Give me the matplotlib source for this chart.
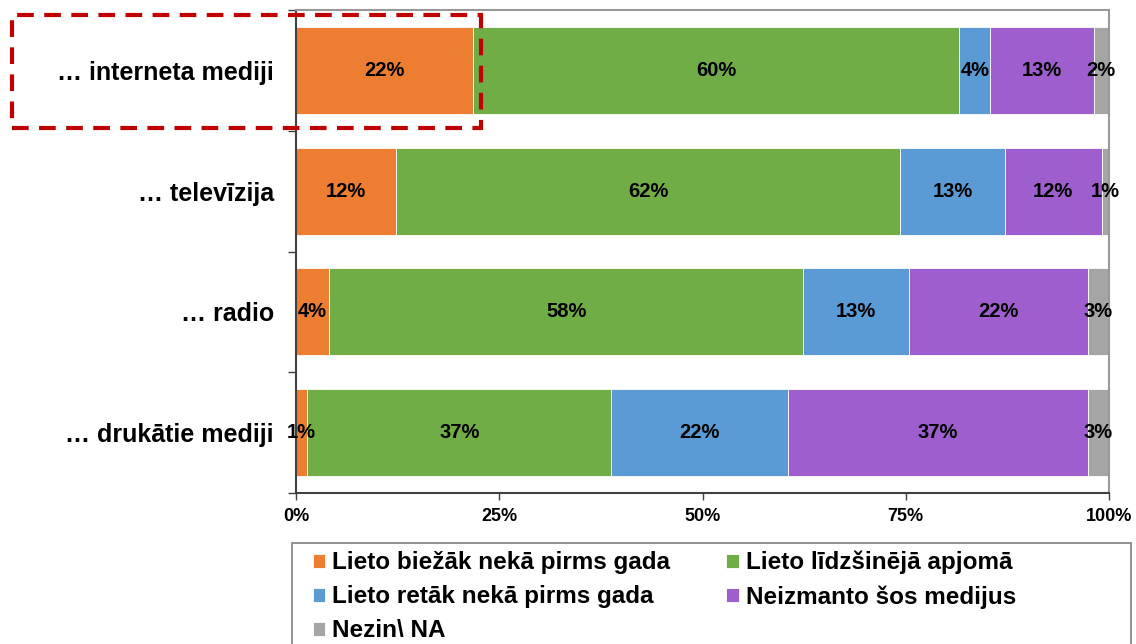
import matplotlib
matplotlib.use("Agg")
import matplotlib.pyplot as plt
import numpy as np
from matplotlib.patches import Rectangle
from matplotlib.ticker import FuncFormatter, FixedLocator

categories = ["… interneta mediji", "… televīzija", "… radio", "… drukātie mediji"]
series = ["Lieto biežāk nekā pirms gada", "Lieto līdzšinējā apjomā",
          "Lieto retāk nekā pirms gada", "Neizmanto šos medijus", "Nezin\\ NA"]
colors = ["#ED7D31", "#70AD47", "#5B9BD5", "#9E5ECE", "#A5A5A5"]

biezak = [21.8, 12.3, 4.1, 1.4]
lidzsinejais = [59.8, 62.0, 58.3, 37.4]
retak = [3.8, 12.9, 13.0, 21.7]
neizmanto = [12.7, 11.9, 22.0, 36.9]
nezin = [1.9, 0.9, 2.6, 2.6]
values = [biezak, lidzsinejais, retak, neizmanto, nezin]

plt.rcParams["font.family"] = ["Liberation Sans", "DejaVu Sans"]
plt.rcParams["font.weight"] = "bold"

fig = plt.figure(figsize=(11.36, 6.44), dpi=100)
ax = fig.add_axes([296 / 1136, 1 - 493 / 644, (1109 - 296) / 1136, (493 - 10) / 644])

y = np.arange(len(categories))
left = np.zeros(len(categories))
handles = []
for name, vals, col in zip(series, values, colors):
    vals = np.array(vals)
    b = ax.barh(y, vals, left=left, height=0.72, color=col,
                edgecolor="white", linewidth=0.6, label=name)
    handles.append(b)
    for yi, (l, v) in enumerate(zip(left, vals)):
        ax.text(l + v / 2, yi, f"{v:.0f}%", ha="center", va="center",
                fontsize=14.5, fontweight="bold", color="black")
    left += vals

ax.set_xlim(0, 100)
ax.set_ylim(len(categories) - 0.5, -0.5)
ax.set_yticks(y)
ax.set_yticklabels(categories, fontsize=18, fontweight="bold")
ax.tick_params(axis="y", which="major", length=0, pad=16)
ax.yaxis.set_minor_locator(FixedLocator(np.arange(-0.5, len(categories), 1)))
ax.tick_params(axis="y", which="minor", length=6, width=1, color="#404040")
ax.set_xticks([0, 25, 50, 75, 100])
ax.xaxis.set_major_formatter(FuncFormatter(lambda v, p: f"{v:.0f}%"))
ax.tick_params(axis="x", length=5, width=1, color="#404040", labelsize=13, pad=6)
for lab in ax.get_xticklabels():
    lab.set_fontweight("bold")

ax.spines["left"].set_color("#404040")
ax.spines["bottom"].set_color("#404040")
ax.spines["left"].set_linewidth(1.5)
ax.spines["bottom"].set_linewidth(1.5)
ax.spines["top"].set_color("#999999")
ax.spines["right"].set_color("#999999")
ax.spines["top"].set_linewidth(1.5)
ax.spines["right"].set_linewidth(1.5)

# legend, row-wise order; frame drawn separately (cut by the bottom edge)
order = [0, 2, 4, 1, 3]
leg = fig.legend([handles[i] for i in order], [series[i] for i in order],
                 loc="upper left", bbox_to_anchor=(313 / 1136, 1 - 551 / 644),
                 ncol=2, frameon=False, fontsize=17.5,
                 handlelength=0.5, handleheight=0.5, handletextpad=0.3,
                 borderaxespad=0, borderpad=0, labelspacing=0.45, columnspacing=2.3)
for t in leg.get_texts():
    t.set_fontweight("bold")
fig.patches.append(Rectangle((292 / 1136, -0.05), (1131 - 292) / 1136, 0.05 + (644 - 543) / 644,
                             transform=fig.transFigure, fill=False, edgecolor="#808080",
                             linewidth=1.2))

# dashed highlight around the first category
fig.patches.append(Rectangle((12 / 1136, 1 - 128 / 644), (481 - 12) / 1136, (128 - 15) / 644,
                             transform=fig.transFigure, fill=False, edgecolor="#C00000",
                             linewidth=3, linestyle=(0, (4, 2.5)), zorder=10))

fig.savefig("out.png", dpi=100)
